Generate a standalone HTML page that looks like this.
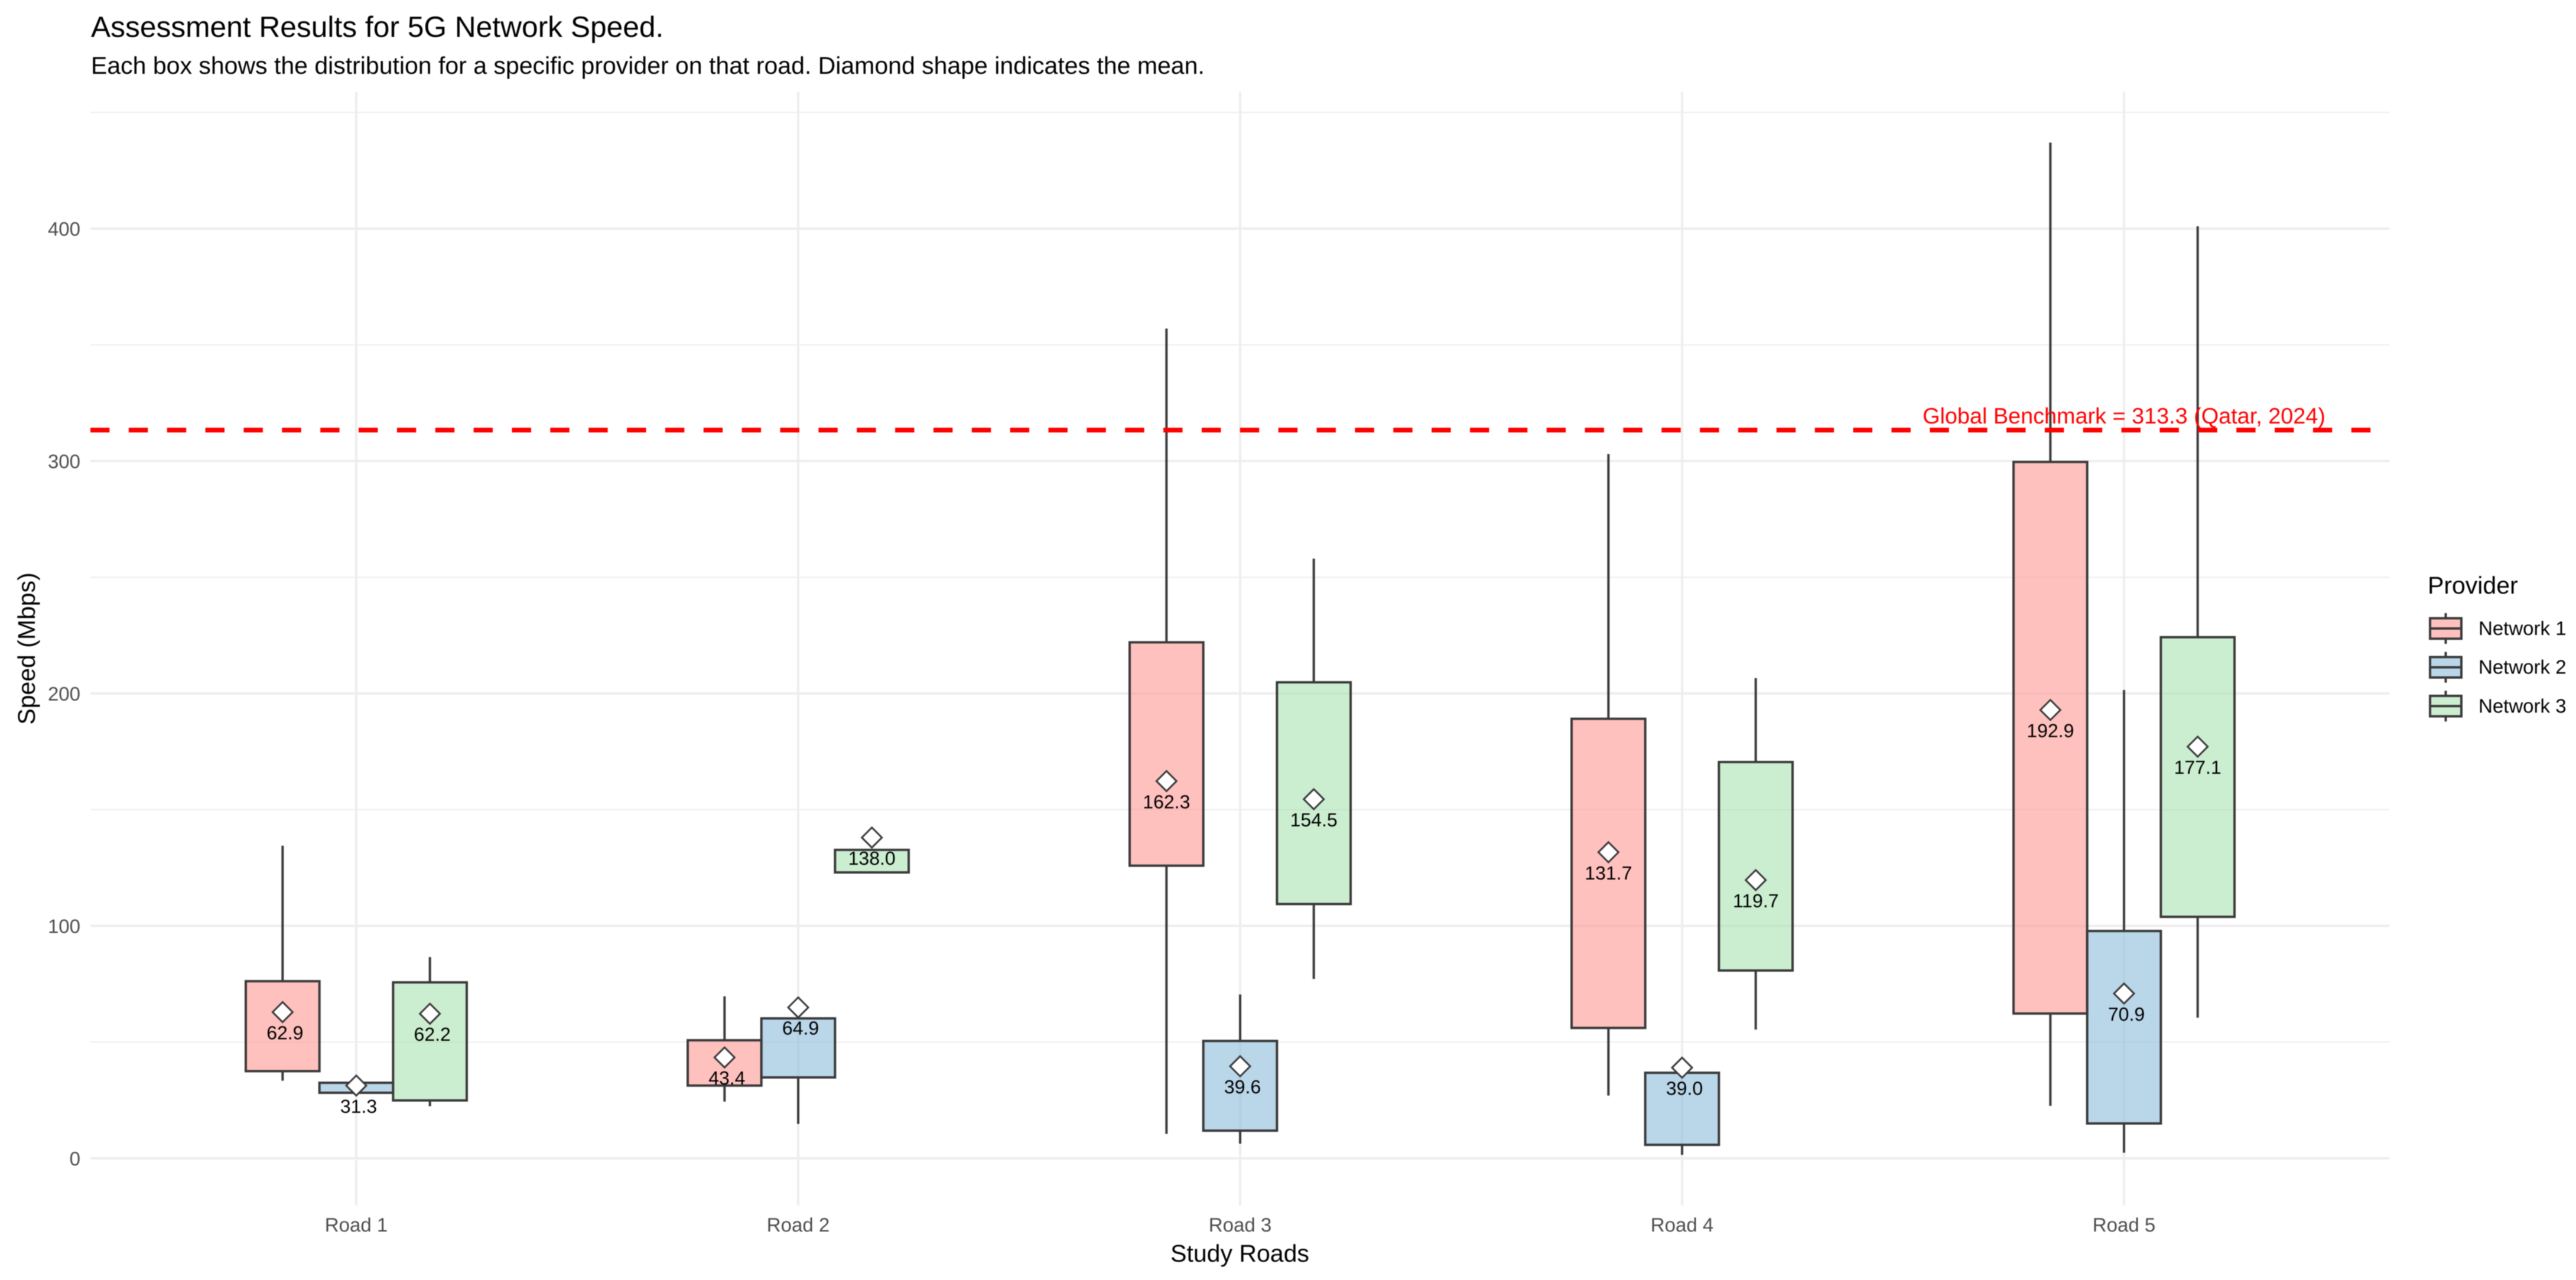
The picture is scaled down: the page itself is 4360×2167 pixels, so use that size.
<!DOCTYPE html>
<html lang="en">
<head>
<meta charset="utf-8">
<title>Assessment Results for 5G Network Speed</title>
<style>
html,body{margin:0;padding:0;background:#fff;}
svg{display:block;filter:blur(0.9px);}
text{font-family:"Liberation Sans",Arial,sans-serif;text-rendering:geometricPrecision;}
</style>
</head>
<body>
<svg id="chart" xmlns="http://www.w3.org/2000/svg" width="4360" height="2167" viewBox="0 0 4360 2167">
  <rect x="0" y="0" width="4360" height="2167" fill="#ffffff"/>
  <text x="154" y="62.5" font-size="49.7" fill="#000">Assessment Results for 5G Network Speed.</text>
  <text x="154" y="125" font-size="41" fill="#000">Each box shows the distribution for a specific provider on that road. Diamond shape indicates the mean.</text>
  <g id="grid"></g>
  <g id="y-ticks"></g>
  <g id="x-ticks"></g>
  <g id="marks"></g>
  <g id="benchmark"></g>
  <g id="means"></g>
  <text x="2098.5" y="2136" font-size="41" text-anchor="middle" fill="#000">Study Roads</text>
  <text x="0" y="0" transform="translate(59 1098) rotate(-90)" font-size="41" text-anchor="middle" fill="#000">Speed (Mbps)</text>
  <g id="legend">
    <text x="4109" y="1005" font-size="41" fill="#000">Provider</text>
  </g>
</svg>
<script>
// ---- chart data (Mbps) ----
const roads = ["Road 1", "Road 2", "Road 3", "Road 4", "Road 5"];
const providers = ["Network 1", "Network 2", "Network 3"];
const yMajorTicks = [0, 100, 200, 300, 400];
const yMinorTicks = [50, 150, 250, 350, 450];

const net1WhiskerLow  = [33.4, 24.4, 10.5, 27.0, 22.6];
const net1BoxLow      = [37.5, 31.3, 125.9, 56.1, 62.3];
const net1BoxHigh     = [76.2, 50.8, 222.0, 189.1, 299.6];
const net1WhiskerHigh = [134.5, 69.7, 357.0, 303.0, 437.0];
const net1Mean        = [62.9, 43.4, 162.3, 131.7, 192.9];

const net2WhiskerLow  = [27.0, 14.8, 6.3, 1.5, 2.4];
const net2BoxLow      = [28.2, 34.8, 11.9, 5.8, 15.0];
const net2BoxHigh     = [32.5, 60.2, 50.5, 36.8, 97.8];
const net2WhiskerHigh = [34.0, 62.0, 70.5, 39.0, 201.5];
const net2Mean        = [31.3, 64.9, 39.6, 39.0, 70.9];

const net3WhiskerLow  = [22.4, 123.0, 77.2, 55.4, 60.5];
const net3BoxLow      = [24.9, 123.0, 109.4, 80.8, 103.9];
const net3BoxHigh     = [75.7, 132.7, 204.8, 170.5, 224.2];
const net3WhiskerHigh = [86.6, 132.7, 258.0, 206.6, 401.0];
const net3Mean        = [62.2, 138.0, 154.5, 119.7, 177.1];

const benchmarkValue = [313.3];
const benchmarkLabel = ["Global Benchmark = 313.3 (Qatar, 2024)"];

const whiskerLow  = [net1WhiskerLow, net2WhiskerLow, net3WhiskerLow];
const boxLow      = [net1BoxLow, net2BoxLow, net3BoxLow];
const boxHigh     = [net1BoxHigh, net2BoxHigh, net3BoxHigh];
const whiskerHigh = [net1WhiskerHigh, net2WhiskerHigh, net3WhiskerHigh];
const means       = [net1Mean, net2Mean, net3Mean];

// ---- axis functions ----
const PANEL = {left: 153, right: 4044.5, top: 155, bottom: 2041};
function yScale(v) { return 1961 - v * 3.935; }
function xRoad(i) { return 603 + i * 748; }
function xBox(i, p) { return xRoad(i) + (p - 1) * 124.67; }
const BOX_W = 124.67;
const fills = ["#FF9893", "#8CBBDA", "#AAE3B1"];
const FILL_ALPHA = 0.6;
const EDGE = "#3A3A3A";
const NS = "http://www.w3.org/2000/svg";

function make(tag, parent, attrs) {
  const el = document.createElementNS(NS, tag);
  for (const k in attrs) el.setAttribute(k, attrs[k]);
  parent.appendChild(el);
  return el;
}
function slug(s) { return s.toLowerCase().replace(/\s+/g, '-'); }

// ---- grid ----
const grid = document.getElementById('grid');
yMinorTicks.forEach(function (v) {
  const l = make('line', grid, {x1: PANEL.left, x2: PANEL.right, y1: yScale(v), y2: yScale(v), stroke: '#EEEEEE', 'stroke-width': 2});
  
  
});
yMajorTicks.forEach(function (v) {
  const l = make('line', grid, {x1: PANEL.left, x2: PANEL.right, y1: yScale(v), y2: yScale(v), stroke: '#EEEEEE', 'stroke-width': 4});
  
  
});
roads.forEach(function (r, i) {
  const l = make('line', grid, {x1: xRoad(i), x2: xRoad(i), y1: PANEL.top, y2: PANEL.bottom, stroke: '#EEEEEE', 'stroke-width': 4});
  
  
});

// ---- tick labels ----
const yTicksG = document.getElementById('y-ticks');
yMajorTicks.forEach(function (v) {
  const t = make('text', yTicksG, {x: 136, y: yScale(v) + 12, 'font-size': 33, 'text-anchor': 'end', fill: '#4D4D4D'});
  
  
  t.textContent = String(v);
});
const xTicksG = document.getElementById('x-ticks');
roads.forEach(function (r, i) {
  const t = make('text', xTicksG, {x: xRoad(i), y: 2085, 'font-size': 33, 'text-anchor': 'middle', fill: '#4D4D4D'});
  
  
  t.textContent = r;
});

// ---- boxes ----
const marks = document.getElementById('marks');
roads.forEach(function (r, i) {
  providers.forEach(function (prov, p) {
    const cx = xBox(i, p);
    const g = make('g', marks, {});
    
    
    const up = make('line', g, {x1: cx, x2: cx, y1: yScale(boxHigh[p][i]), y2: yScale(whiskerHigh[p][i]), stroke: EDGE, 'stroke-width': 4});
    
    
    const down = make('line', g, {x1: cx, x2: cx, y1: yScale(boxLow[p][i]), y2: yScale(whiskerLow[p][i]), stroke: EDGE, 'stroke-width': 4});
    
    
    const top = yScale(boxHigh[p][i]);
    const bottom = yScale(boxLow[p][i]);
    const rect = make('rect', g, {x: cx - BOX_W / 2, y: top, width: BOX_W, height: bottom - top, fill: fills[p], 'fill-opacity': FILL_ALPHA, stroke: EDGE, 'stroke-width': 4});
    
    
  });
});

// ---- benchmark ----
const bench = document.getElementById('benchmark');
const by = yScale(benchmarkValue[0]);
const bl = make('line', bench, {x1: PANEL.left, x2: PANEL.right, y1: by, y2: by, stroke: '#FF0000', 'stroke-width': 8, 'stroke-dasharray': '32.43 32.43'});


const bt = make('text', bench, {x: xRoad(4), y: by - 11, 'font-size': 37.8, 'text-anchor': 'middle', fill: '#FF0000'});


bt.textContent = benchmarkLabel[0];

// ---- mean diamonds and labels ----
const meansG = document.getElementById('means');
roads.forEach(function (r, i) {
  providers.forEach(function (prov, p) {
    const cx = xBox(i, p);
    const cy = yScale(means[p][i]);
    const d = 17;
    const poly = make('polygon', meansG, {points: (cx) + ',' + (cy - d) + ' ' + (cx + d) + ',' + cy + ' ' + cx + ',' + (cy + d) + ' ' + (cx - d) + ',' + cy, fill: '#ffffff', stroke: EDGE, 'stroke-width': 3});
    
    
    // labels are padded to a common width, so shorter numbers sit slightly right
    const label = means[p][i].toFixed(1);
    const shift = means[p][i] < 100 ? 4 : 0;
    const t = make('text', meansG, {x: cx + shift, y: cy + 46, 'font-size': 32, 'text-anchor': 'middle', fill: '#000'});
    
    
    t.textContent = label;
  });
});

// ---- legend ----
const legend = document.getElementById('legend');
const legendKeyY = [1064, 1129.7, 1195.4];
providers.forEach(function (prov, p) {
  const yc = legendKeyY[p];
  const g = make('g', legend, {});
  
  
  const w = make('line', g, {x1: 4139.5, x2: 4139.5, y1: yc - 26, y2: yc + 26, stroke: EDGE, 'stroke-width': 4});
  
  
  const bg = make('rect', g, {x: 4113, y: yc - 17.3, width: 53, height: 34.6, fill: '#ffffff'});
  
  
  const b = make('rect', g, {x: 4113, y: yc - 17.3, width: 53, height: 34.6, fill: fills[p], 'fill-opacity': FILL_ALPHA, stroke: EDGE, 'stroke-width': 4});
  
  
  const m = make('line', g, {x1: 4113, x2: 4166, y1: yc, y2: yc, stroke: EDGE, 'stroke-width': 4});
  
  
  const t = make('text', g, {x: 4195, y: yc + 11, 'font-size': 33, fill: '#000'});
  
  
  t.textContent = prov;
});
</script>
</body>
</html>
